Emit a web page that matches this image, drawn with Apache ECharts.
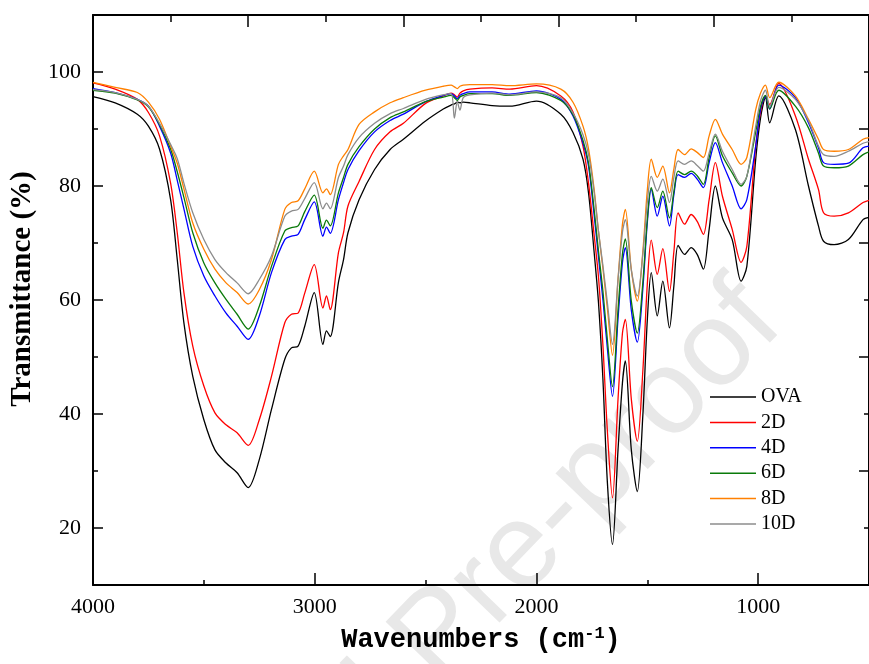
<!DOCTYPE html>
<html><head><meta charset="utf-8">
<script src="https://cdn.jsdelivr.net/npm/echarts@6/dist/echarts.min.js"></script>
<style>html,body{margin:0;padding:0;background:#fff}#c{width:869px;height:664px}</style>
</head><body><div id="c"></div>
<script>
const wavenumbers = [4000,3900,3800,3750,3700,3650,3620,3590,3550,3500,3450,3400,3350,3300,3250,3195,3135,3105,3075,3045,3002,2963,2947,2930,2893,2870,2850,2800,2730,2660,2600,2500,2420,2385,2370,2357,2345,2330,2300,2200,2120,2000,1890,1835,1790,1765,1740,1720,1700,1680,1657,1632,1612,1599,1572,1545,1520,1500,1482,1455,1430,1400,1380,1361,1332,1302,1275,1247,1221,1193,1161,1117,1077,1051,1011,989,967,948,907,832,773,728,705,657,593,527,500];
const ova = [95.7,94.6,92.6,90.5,86.5,77.6,67.1,56.0,46.6,39.0,33.7,31.4,29.7,27.1,32.0,40.8,49.6,51.6,51.9,55.4,61.3,52.2,54.6,53.6,63.1,67.1,71.8,77.6,82.9,86.4,88.2,91.4,93.5,94.2,94.4,94.7,94.6,94.7,94.6,94.1,94.0,94.9,92.6,89.4,84.7,78.8,68.5,59.5,46.0,28.0,17.1,33.7,45.5,49.3,33.7,26.4,39.8,56.4,64.8,57.2,63.3,55.1,62.5,69.6,68.0,69.2,68.0,65.4,72.4,80.0,74.4,70.6,63.3,65.9,84.7,92.0,95.5,91.1,95.8,89.9,80.0,73.0,70.3,69.7,70.6,74.1,74.5];
const d2 = [98.1,97.0,95.2,92.9,88.8,80.5,71.8,61.3,51.9,44.9,40.2,38.1,36.7,34.5,39.0,46.6,56.0,57.5,57.7,61.2,66.2,58.6,60.7,58.3,68.3,71.8,76.5,80.8,86.4,89.5,91.0,94.5,95.8,96.3,96.0,95.6,96.3,96.7,97.0,97.2,97.0,97.6,95.8,93.0,87.0,80.5,71.5,64.0,52.0,37.0,25.3,42.6,54.2,56.6,42.6,35.2,47.6,62.7,70.5,64.5,69.0,61.5,68.5,75.3,73.3,75.0,73.8,71.5,77.6,84.1,78.2,72.4,66.6,69.4,87.0,93.0,95.8,94.3,98.0,92.3,84.7,79.4,75.3,74.7,75.3,77.1,77.5];
const d4 = [97.1,96.4,95.2,94.0,90.5,85.8,81.0,76.0,69.4,64.2,60.7,57.7,55.4,53.1,57.2,64.8,70.6,71.2,71.5,74.1,77.2,71.2,72.8,71.7,77.6,80.6,82.9,86.2,89.5,91.5,92.6,94.8,95.9,96.2,95.8,95.3,95.9,96.2,96.5,96.5,96.1,96.7,95.2,92.3,87.5,83.5,75.0,67.5,60.0,51.5,43.1,56.7,66.6,69.2,58.2,52.6,62.0,73.5,79.4,74.7,78.2,73.0,78.5,82.0,81.5,82.2,81.2,79.7,84.1,87.6,84.1,80.0,76.0,77.6,87.0,93.5,95.7,93.5,97.7,95.5,91.1,86.7,84.1,83.8,84.0,86.7,87.0];
const d6 = [96.8,96.3,95.1,93.9,90.8,86.5,82.5,78.0,71.8,66.5,63.0,60.1,57.5,54.9,58.9,65.9,72.1,72.7,73.0,75.5,78.4,72.6,74.0,73.0,78.8,81.5,83.8,86.9,90.0,92.0,93.0,94.8,95.6,95.9,95.5,95.0,95.6,95.9,96.2,96.2,95.9,96.4,95.0,92.5,88.0,84.0,76.0,68.5,61.5,53.0,44.8,58.3,68.1,70.7,59.8,54.2,63.1,74.1,79.7,76.2,79.1,74.4,79.0,82.6,82.0,82.6,81.8,80.3,85.0,88.8,85.3,82.3,80.0,81.7,89.5,94.0,95.9,93.5,96.8,94.0,90.2,85.8,83.5,83.2,83.5,85.5,86.0];
const d8 = [98.2,97.3,96.4,94.7,91.7,87.0,84.0,79.5,73.5,68.9,65.4,63.0,61.3,59.3,61.8,67.1,75.9,77.1,77.4,79.5,82.6,78.8,79.5,78.5,83.8,85.3,86.4,90.8,93.0,94.6,95.5,96.8,97.5,97.7,97.4,97.1,97.5,97.7,97.8,97.8,97.6,97.9,97.0,94.7,90.5,86.5,79.5,72.0,65.5,58.5,50.3,63.6,73.3,75.9,65.3,59.8,68.5,79.2,84.7,81.5,83.5,78.8,83.0,86.4,85.5,86.5,85.9,85.0,88.8,91.7,89.1,86.4,83.8,85.0,93.4,96.3,97.7,95.5,98.2,95.8,91.7,88.2,86.4,86.1,86.4,88.2,88.5];
const d10 = [96.9,96.4,95.2,94.0,91.0,87.3,84.8,80.5,75.3,70.6,67.1,64.8,63.0,61.1,63.6,67.7,74.7,75.6,75.9,77.8,80.6,76.0,77.0,76.0,81.5,83.5,85.5,88.5,91.0,92.7,93.6,95.2,96.0,96.2,91.9,94.8,93.3,95.5,96.0,96.3,96.0,96.5,95.5,92.8,89.0,85.5,79.0,72.0,66.0,59.5,52.2,63.6,71.9,74.1,65.3,60.7,68.0,77.1,81.7,79.1,81.2,77.1,81.5,84.4,83.8,84.4,83.6,82.6,85.8,89.1,86.1,82.9,80.3,81.7,90.5,95.0,96.8,94.0,97.3,95.2,91.4,87.0,85.5,85.2,86.1,87.5,87.8];

const seriesNames = ['OVA','2D','4D','6D','8D','10D'];
const seriesValues = [ova, d2, d4, d6, d8, d10];
const seriesColors = ['#000000','#ff0000','#0000ff','#0a7a0a','#ff8000','#8c8c8c'];
const xTickLabels = [1000,2000,3000,4000];
const xMinorTicks = [500,1500,2500,3500];
const yTickLabels = [20,40,60,80,100];
const yMinorTicks = [30,50,70,90];

const chart = echarts.init(document.getElementById('c'), null, {renderer:'canvas'});
const serif = 'Liberation Serif';
const blackLine = {color:'#000', width:2};
const tickStyle = {color:'#000', width:1.5};
const plain = v => String(v);

const series = seriesNames.map((name, k) => ({
  type:'line', name, symbol:'none', smooth:0.3,
  data: wavenumbers.map((w,i)=>[w, seriesValues[k][i]]),
  lineStyle:{width:1.3, color:seriesColors[k]},
  itemStyle:{color:seriesColors[k]},
  xAxisIndex:0, yAxisIndex:0, z:2+k
}));

chart.setOption({
  animation:false,
  backgroundColor:'#fff',
  grid:{left:93, top:15, bottom:79, right:-4.5, containLabel:false},
  graphic:[{
    type:'text', x:805, y:345, rotation:46*Math.PI/180, z:-10, silent:true,
    style:{text:'Journal Pre-proof', fill:'#e8e8e8', font:'120px "Liberation Sans"',
      align:'right', verticalAlign:'bottom', textAlign:'right', textVerticalAlign:'bottom'}
  }],
  legend:{
    orient:'vertical', left:710, top:387, padding:0, icon:'rect',
    itemWidth:46, itemHeight:1.5, itemGap:5.4,
    textStyle:{fontFamily:serif, fontSize:20, color:'#000', lineHeight:20},
    data:seriesNames
  },
  xAxis:[
    {type:'value', position:'bottom', min:500, max:4000, inverse:true,
     axisLine:{show:true, onZero:false, lineStyle:blackLine},
     axisTick:{show:true, inside:true, length:12, lineStyle:tickStyle, customValues:xTickLabels},
     axisLabel:{customValues:xTickLabels, formatter:plain, margin:11, color:'#000', fontFamily:serif, fontSize:22},
     splitLine:{show:false},
     name:'Wavenumbers (cm{sup|-1})', nameLocation:'middle', nameGap:40,
     nameTextStyle:{fontFamily:'Liberation Mono', fontWeight:'bold', fontSize:27, color:'#000', lineHeight:30,
       rich:{sup:{fontFamily:'Liberation Mono', fontWeight:'bold', fontSize:17, lineHeight:14, verticalAlign:'top', color:'#000'}}}
    },
    {type:'value', position:'bottom', min:500, max:4000, inverse:true,
     axisLine:{show:false, onZero:false},
     axisTick:{show:true, inside:true, length:5, lineStyle:tickStyle, customValues:xMinorTicks},
     axisLabel:{show:false}, splitLine:{show:false}
    },
    {type:'value', position:'top', min:0, max:10, interval:2,
     axisLine:{show:true, onZero:false, lineStyle:blackLine},
     axisTick:{show:true, inside:true, length:12, lineStyle:tickStyle},
     minorTick:{show:true, splitNumber:2, length:7, lineStyle:tickStyle},
     axisLabel:{show:false}, splitLine:{show:false}, minorSplitLine:{show:false}
    }
  ],
  yAxis:[
    {type:'value', position:'left', min:10, max:110,
     axisLine:{show:true, onZero:false, lineStyle:blackLine},
     axisTick:{show:true, inside:true, length:10, lineStyle:tickStyle, customValues:yTickLabels},
     axisLabel:{customValues:yTickLabels, formatter:plain, margin:12, color:'#000', fontFamily:serif, fontSize:22},
     splitLine:{show:false},
     name:'Transmittance (%)', nameLocation:'middle', nameGap:52,
     nameTextStyle:{fontFamily:serif, fontWeight:'bold', fontSize:29, color:'#000', padding:[0,0,0,22]}
    },
    {type:'value', position:'left', min:10, max:110,
     axisLine:{show:false, onZero:false},
     axisTick:{show:true, inside:true, length:5, lineStyle:tickStyle, customValues:yMinorTicks},
     axisLabel:{show:false}, splitLine:{show:false}
    },
    {type:'value', position:'right', min:10, max:110, interval:20,
     axisLine:{show:true, onZero:false, lineStyle:blackLine},
     axisTick:{show:true, inside:true, length:10, lineStyle:tickStyle},
     minorTick:{show:true, splitNumber:2, length:5, lineStyle:tickStyle},
     axisLabel:{show:false}, splitLine:{show:false}, minorSplitLine:{show:false}
    }
  ],
  series
});
</script></body></html>
